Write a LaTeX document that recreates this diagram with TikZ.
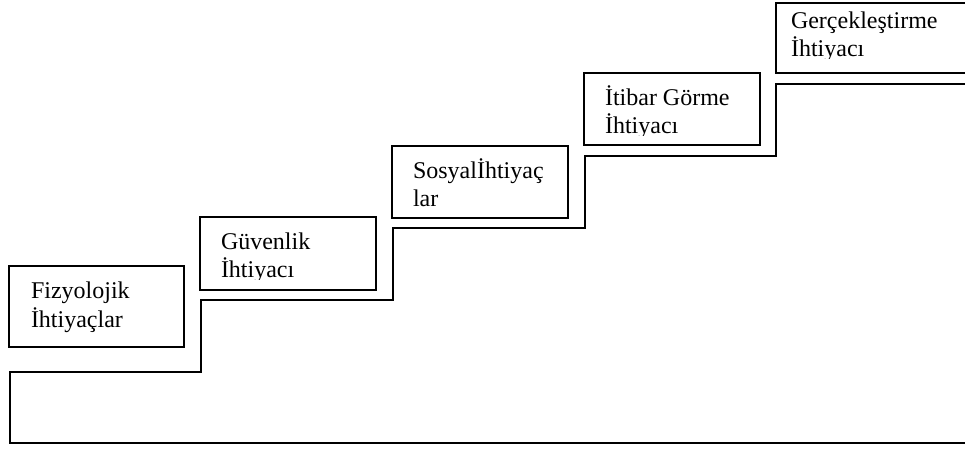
\documentclass[tikz,border=0pt]{standalone}
\usepackage{fontspec}
\setmainfont{Liberation Serif}
\begin{document}
\begin{tikzpicture}[x=1pt,y=-1pt,
  line join=miter,
  stepframe/.style={draw=black,line width=1.4pt},
  stairline/.style={draw=black,line width=1.4pt},
  label/.style={anchor=base west,inner sep=0pt,outer sep=0pt,
    font=\fontsize{24}{28}\selectfont}]
\useasboundingbox (0,0) rectangle (965,448);
\clip (0,0) rectangle (965,448);

% staircase outline
\coordinate (s0) at (10,443);
\coordinate (s1) at (10,372);
\coordinate (s2) at (201,372);
\coordinate (s3) at (201,300);
\coordinate (s4) at (393,300);
\coordinate (s5) at (393,228);
\coordinate (s6) at (585,228);
\coordinate (s7) at (585,156);
\coordinate (s8) at (776,156);
\coordinate (s9) at (776,84);
\coordinate (s10) at (975,84);
\coordinate (b1) at (975,443);
\draw[stairline] (s10) -- (s9) -- (s8) -- (s7) -- (s6) -- (s5) -- (s4)
  -- (s3) -- (s2) -- (s1) -- (s0) -- (b1);

% step labels (frames)
\draw[stepframe] (9,266) rectangle (184,347);
\draw[stepframe] (200,217) rectangle (376,290);
\draw[stepframe] (392,146) rectangle (568,218);
\draw[stepframe] (584,73) rectangle (760,145);
\draw[stepframe] (776,3) rectangle (975,73);

% step texts
\node[label] (f1) at (31,298) {Fizyolojik};
\node[label] (f2) at (31,327) {İhtiyaçlar};

\begin{scope}
  \clip (200,217) rectangle (376,279);
  \node[label] (g1) at (221,249) {Güvenlik};
  \node[label] (g2) at (221,277) {İhtiyacı};
\end{scope}

\node[label] (o1) at (413,178) {Sosyalİhtiyaç};
\node[label] (o2) at (413,206) {lar};

\begin{scope}
  \clip (584,73) rectangle (760,135);
  \node[label] (i1) at (605,105) {İtibar Görme};
  \node[label] (i2) at (605,133) {İhtiyacı};
\end{scope}

\begin{scope}
  \clip (776,3) rectangle (975,58);
  \node[label] (r1) at (791,28) {Gerçekleştirme};
  \node[label] (r2) at (791,56) {İhtiyacı};
\end{scope}
\end{tikzpicture}
\end{document}
